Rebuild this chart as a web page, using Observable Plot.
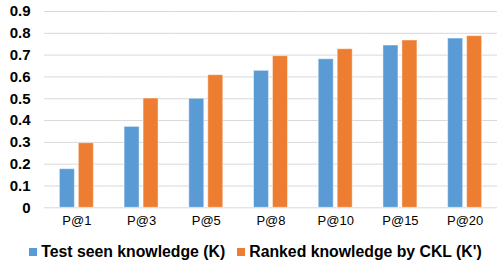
<!DOCTYPE html>
<html>
<head>
<meta charset="utf-8">
<script src="https://cdn.jsdelivr.net/npm/d3@7"></script>
<script src="https://cdn.jsdelivr.net/npm/@observablehq/plot@0.6"></script>
<style>
  body { margin: 0; background: #fff; font-family: "Liberation Sans", Arial, sans-serif; }
  #chart svg { display: block; font-family: "Liberation Sans", Arial, sans-serif; }
  .legend { display: flex; justify-content: center; align-items: center; margin-top: 12px; padding-left: 14px;
            font-size: 15.8px; font-weight: bold; color: #000; line-height: 16px; width: 497px; box-sizing: border-box; }
  .legend .item { display: flex; align-items: center; margin: 0 6px; white-space: nowrap; }
  .legend .sw { width: 8px; height: 8px; margin-right: 4px; display: inline-block; }
</style>
</head>
<body>
<div id="chart"></div>
<script>
const categories = ["P@1", "P@3", "P@5", "P@8", "P@10", "P@15", "P@20"];
const seriesNames = ["Test seen knowledge (K)", "Ranked knowledge by CKL (K')"];
const testSeen = [0.177, 0.371, 0.500, 0.628, 0.681, 0.744, 0.776];
const ranked = [0.296, 0.501, 0.608, 0.695, 0.727, 0.767, 0.787];
const yTicks = [0, 0.1, 0.2, 0.3, 0.4, 0.5, 0.6, 0.7, 0.8, 0.9];
const colors = ["#5B9BD5", "#ED7D31"];

const data = [];
categories.forEach((c, i) => {
  data.push({cat: c, series: seriesNames[0], value: testSeen[i]});
  data.push({cat: c, series: seriesNames[1], value: ranked[i]});
});

const chart = Plot.plot({
  width: 497,
  height: 232,
  marginLeft: 44,
  marginRight: 0,
  marginTop: 11,
  marginBottom: 24.7,
  fx: {domain: categories, padding: 0, round: false, label: null, axis: null},
  x: {domain: seriesNames, paddingInner: 0.21, paddingOuter: 0.81, round: false, axis: null},
  y: {domain: [0, 0.9], label: null},
  color: {domain: seriesNames, range: colors},
  marks: [
    Plot.gridY(yTicks, {stroke: "#d9d9d9", strokeOpacity: 1, strokeWidth: 1}),
    Plot.barY(data, {fx: "cat", x: "series", y: "value", fill: "series", stroke: "#ffffff", strokeOpacity: 0.45, strokeWidth: 1}),
    Plot.axisY(yTicks, {tickSize: 0, tickPadding: 14, fontSize: 15, fontWeight: "bold", fill: "#000",
      tickFormat: d => d === 0 ? "0" : d.toFixed(1), label: null}),
    Plot.axisFx({anchor: "bottom", tickSize: 0, tickPadding: 8, fontSize: 13, fill: "#000", label: null})
  ]
});
document.getElementById("chart").appendChild(chart);

const legend = document.createElement("div");
legend.className = "legend";
seriesNames.forEach((s, i) => {
  const item = document.createElement("span");
  item.className = "item";
  const sw = document.createElement("span");
  sw.className = "sw";
  sw.style.background = colors[i];
  item.appendChild(sw);
  item.appendChild(document.createTextNode(s));
  legend.appendChild(item);
});
document.body.appendChild(legend);
</script>
</body>
</html>
